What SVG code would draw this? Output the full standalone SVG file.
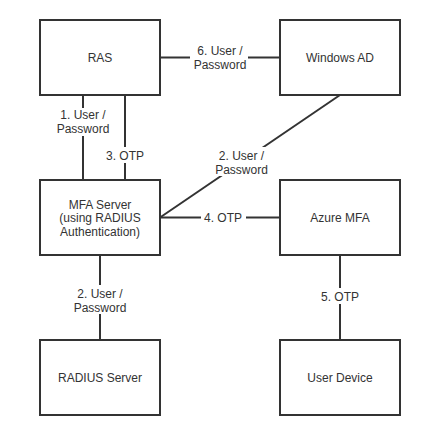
<svg xmlns="http://www.w3.org/2000/svg" width="425" height="435" viewBox="0 0 425 435">
<style>
.box{fill:#ffffff;stroke:#333333;stroke-width:2}
.edge{fill:none;stroke:#333333;stroke-width:2}
.lblbg{fill:#ffffff;stroke:none}
text{font-family:"Liberation Sans",Arial,Helvetica,sans-serif;font-size:12px;fill:#333333;text-anchor:middle}
</style>
<rect x="0" y="0" width="425" height="435" fill="#ffffff"/>
<g id="connectors">
  <line class="edge" x1="160" y1="57.5" x2="280" y2="57.5"/>
  <line class="edge" x1="83" y1="95" x2="83" y2="180"/>
  <line class="edge" x1="125" y1="95" x2="125" y2="180"/>
  <line class="edge" x1="340" y1="95" x2="160" y2="217.5"/>
  <line class="edge" x1="160" y1="217.5" x2="280" y2="217.5"/>
  <line class="edge" x1="100" y1="255" x2="100" y2="340"/>
  <line class="edge" x1="340" y1="255" x2="340" y2="340"/>

  <rect class="lblbg" x="190" y="44" width="58" height="28"/>
  <text x="220" y="55"><tspan x="220">6. User /</tspan><tspan x="220" y="69">Password</tspan></text>

  <rect class="lblbg" x="55" y="108" width="56" height="28"/>
  <text x="83" y="119"><tspan x="83">1. User /</tspan><tspan x="83" y="133">Password</tspan></text>

  <rect class="lblbg" x="105" y="147" width="40" height="16"/>
  <text x="125" y="159.5">3. OTP</text>

  <rect class="lblbg" x="214" y="147" width="55" height="29"/>
  <text x="241.5" y="160"><tspan x="241.5">2. User /</tspan><tspan x="241.5" y="174">Password</tspan></text>

  <rect class="lblbg" x="201" y="209" width="45" height="16"/>
  <text x="223" y="221.5">4. OTP</text>

  <rect class="lblbg" x="72" y="285" width="56" height="29"/>
  <text x="100" y="297.5"><tspan x="100">2. User /</tspan><tspan x="100" y="311.5">Password</tspan></text>

  <rect class="lblbg" x="320" y="288" width="40" height="16"/>
  <text x="340" y="301">5. OTP</text>
</g>
<g id="node-ras">
  <rect class="box" x="40" y="20" width="120" height="75"/>
  <text x="100" y="62">RAS</text>
</g>
<g id="node-windows-ad">
  <rect class="box" x="280" y="20" width="120" height="75"/>
  <text x="340" y="62">Windows AD</text>
</g>
<g id="node-mfa-server">
  <rect class="box" x="40" y="180" width="120" height="75"/>
  <text x="100" y="208.5"><tspan x="100">MFA Server</tspan><tspan x="100" y="222">(using RADIUS</tspan><tspan x="100" y="235.5">Authentication)</tspan></text>
</g>
<g id="node-azure-mfa">
  <rect class="box" x="280" y="180" width="120" height="75"/>
  <text x="340" y="222">Azure MFA</text>
</g>
<g id="node-radius-server">
  <rect class="box" x="40" y="340" width="120" height="75"/>
  <text x="100" y="382">RADIUS Server</text>
</g>
<g id="node-user-device">
  <rect class="box" x="280" y="340" width="120" height="75"/>
  <text x="340" y="382">User Device</text>
</g>
</svg>
